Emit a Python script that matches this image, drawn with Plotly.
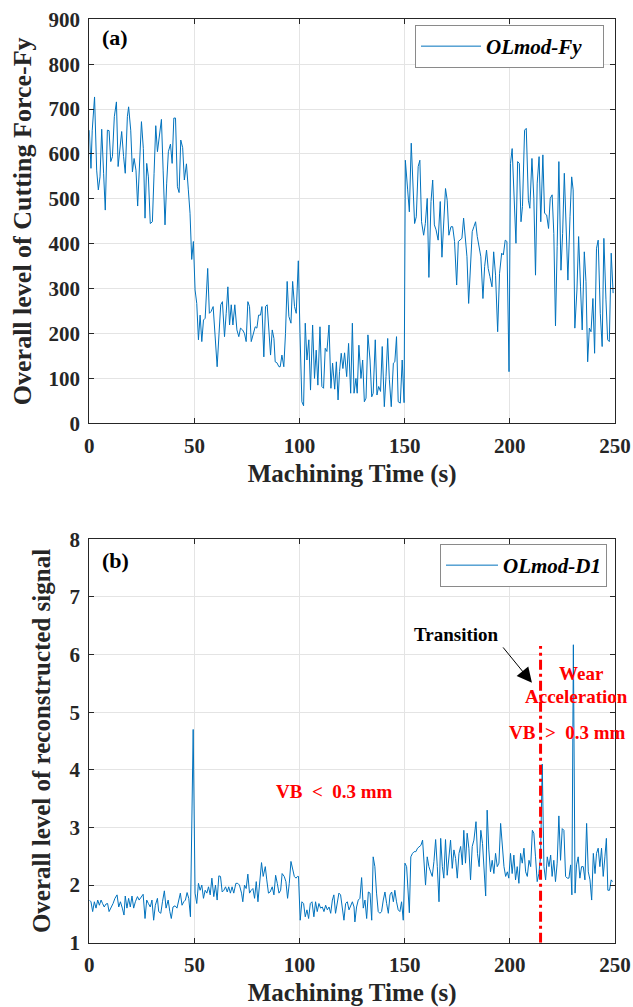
import plotly.graph_objects as go

# ---------------- data ----------------
fy_time = [
    0, 0.8, 1.4, 2.5, 3.5, 4.3, 5.1, 5.9, 6.8, 7.6,
    8.6, 9.4, 10.2, 11.0, 11.9, 12.9, 13.7, 14.4, 15.4, 16.3,
    17.1, 18.1, 18.7, 19.7, 20.5, 21.3, 22.2, 23.0, 23.8, 24.8,
    25.7, 26.5, 27.3, 28.1, 29.0, 30.0, 30.8, 31.6, 32.4, 33.2,
    34.3, 35.1, 36.0, 36.8, 37.6, 38.6, 39.4, 40.2, 41.0, 41.9,
    42.7, 43.5, 44.4, 45.2, 46.2, 47.1, 47.9, 48.7, 49.5, 50.3,
    51.1, 51.9, 52.7, 53.5, 54.3, 55.1, 56.3, 57.1, 57.9, 58.9,
    59.8, 60.8, 61.7, 62.5, 63.3, 64.3, 65.1, 65.9, 66.7, 67.5,
    68.3, 69.2, 70.2, 71.1, 71.9, 72.9, 73.8, 74.6, 75.4, 76.2,
    77.0, 77.9, 78.9, 79.7, 80.5, 81.4, 82.1, 83.0, 83.8, 84.6,
    85.4, 86.2, 87.0, 87.8, 88.4, 89.2, 90.2, 90.8, 91.6, 92.5,
    93.3, 94.1, 94.9, 95.9, 96.7, 97.6, 98.4, 99.4, 100.2, 101.1,
    101.9, 102.7, 103.5, 104.4, 105.2, 106.2, 107.1, 107.9, 108.7, 109.7,
    110.6, 111.4, 112.2, 113.0, 114.0, 114.9, 115.7, 116.7, 117.5, 118.3,
    119.0, 119.8, 120.6, 121.4, 122.4, 123.3, 124.3, 125.1, 125.9,
    126.8, 127.4, 128.2, 129.2, 130.0, 130.8, 131.6, 132.5, 133.5, 134.3,
    135.0, 136.0, 136.8, 137.6, 138.5, 139.3, 140.3, 141.1, 141.9, 142.7,
    143.6, 144.6, 145.3, 146.1, 146.9, 147.9, 148.8, 149.7, 150.3, 151.4,
    152.2, 153.1, 153.9, 154.7, 155.5, 156.4, 157.2, 158.0, 159.0, 159.8,
    160.7, 161.5, 162.5, 163.3, 164.1, 164.9, 165.9, 166.9, 167.7, 168.5,
    169.4, 170.2, 171.0, 172.0, 172.8, 173.7, 174.7, 175.5, 176.4, 177.2,
    178.0, 178.8, 179.6, 180.4, 181.3, 182.1, 182.9, 183.7, 184.5, 185.4,
    186.2, 187.2, 188.0, 188.9, 189.7, 190.5, 191.5, 192.3, 193.2, 194.2,
    195.1, 196.1, 196.9, 197.8, 198.6, 199.6, 200.3, 201.1, 201.9, 202.9,
    203.7, 204.5, 205.3, 206.0, 207.0, 207.8, 208.8, 209.5, 210.5, 211.4,
    212.2, 213.0, 213.9, 214.7, 215.7, 216.5, 217.5, 218.4, 219.2, 220.1,
    220.9, 221.7, 222.5, 223.3, 224.3, 225.1, 225.9, 226.7, 227.6, 228.6,
    229.4, 230.1, 230.9, 231.9, 232.7, 233.6, 234.4, 235.4, 236.2, 237.0,
    237.8, 238.6, 239.5, 240.3, 241.2, 242.0, 243.0, 243.9, 244.7, 245.7,
    246.5, 247.3, 248.2, 249.1,
]
fy_level = [
    653, 568, 653, 727, 564, 520, 549, 655, 557, 475,
    653, 652, 583, 594, 683, 716, 572, 601, 650, 594,
    557, 683, 705, 653, 560, 590, 564, 484, 557, 672,
    612, 457, 579, 549, 445, 449, 557, 663, 605, 631,
    677, 564, 442, 535, 605, 622, 579, 680, 680, 527,
    514, 631, 614, 542, 578, 520, 468, 365, 405, 297,
    267, 186, 241, 182, 230, 234, 345, 245, 249, 260,
    186, 126, 200, 264, 271, 193, 245, 304, 219, 264,
    219, 264, 208, 193, 212, 208, 200, 182, 271, 260,
    182, 200, 215, 212, 241, 241, 260, 148, 260, 264,
    208, 152, 208, 189, 137, 135, 126, 126, 152, 126,
    200, 316, 238, 223, 316, 260, 245, 362, 200, 48,
    39, 223, 141, 186, 74, 219, 100, 163, 85, 215,
    82, 78, 167, 160, 219, 78, 134, 76, 137, 52,
    115, 156, 122, 157, 104, 178, 67, 223, 67,
    100, 67, 174, 100, 141, 48, 56, 197, 141, 59,
    67, 186, 63, 82, 71, 171, 37, 104, 189, 97,
    37, 134, 137, 193, 48, 45, 141, 46, 586, 520,
    471, 624, 535, 445, 460, 572, 586, 449, 419, 445,
    501, 325, 494, 542, 442, 431, 408, 494, 370, 453,
    523, 497, 419, 438, 438, 405, 308, 405, 408, 412,
    457, 419, 371, 267, 356, 427, 438, 449, 416, 390,
    371, 278, 349, 386, 345, 327, 304, 382, 330, 204,
    334, 379, 375, 408, 405, 115, 579, 612, 512, 401,
    583, 579, 449, 483, 653, 657, 497, 479, 590, 501,
    330, 535, 594, 449, 598, 468, 464, 434, 501, 509,
    423, 217, 394, 583, 341, 423, 557, 442, 319, 460,
    549, 520, 212, 297, 416, 304, 208, 382, 316, 137,
    212, 204, 278, 156, 390, 408, 245, 171, 412, 275,
    186, 182, 379, 290,
]

d1_time = [
    0, 0.8, 1.6, 2.4, 3.2, 4.0, 4.8, 5.6, 6.3, 7.1,
    7.9, 8.7, 9.4, 10.3, 11.3, 12.2, 13.2, 14.0, 14.8, 15.7,
    16.5, 17.1, 17.9, 18.7, 19.5, 20.3, 21.1, 21.9, 22.9, 23.7,
    24.6, 25.6, 26.5, 27.3, 28.1, 29.0, 29.8, 30.6, 31.4, 32.4,
    33.0, 34.0, 34.8, 35.7, 36.5, 37.5, 38.3, 39.0, 39.8, 40.8,
    41.7, 42.5, 43.3, 44.1, 44.9, 45.7, 46.5, 47.3, 48.1, 49.4,
    50.3, 51.1, 51.9, 52.7, 53.5, 54.3, 55.1, 55.9, 56.7, 57.5,
    58.3, 59.2, 60.0, 60.8, 61.6, 62.4, 63.2, 64.0, 64.8, 65.6,
    66.3, 67.1, 67.9, 68.7, 69.7, 70.6, 71.4, 72.4, 73.0, 73.8,
    74.6, 75.4, 76.2, 77.0, 77.8, 78.6, 79.4, 80.2, 81.1, 81.9,
    82.7, 83.7, 84.4, 85.2, 86.0, 87.0, 87.8, 88.6, 89.4, 90.2,
    91.0, 91.7, 92.7, 93.5, 94.3, 95.1, 95.9, 96.7, 97.5, 98.3,
    99.0, 99.5, 100.3, 101.1, 101.9, 102.7, 103.5, 104.3, 105.1, 105.9,
    106.8, 107.6, 108.4, 109.2, 110.0, 110.8, 111.6, 112.4, 113.2, 114.0,
    114.8, 115.6, 116.3, 117.1, 117.9, 118.7, 119.5, 120.3, 121.1, 121.9,
    122.7, 123.5, 124.3, 125.1, 125.9,
    126.3, 127.1, 127.9, 128.7, 129.5, 130.3, 131.1, 131.9, 132.7, 133.5,
    134.3, 135.0, 135.8, 136.6, 137.4, 138.2, 139.0, 139.8, 140.6, 141.4,
    142.2, 143.0, 143.8, 144.6, 145.3, 146.1, 146.9, 147.7, 148.5, 149.3,
    150.1, 150.9, 152.2, 152.9, 153.7, 154.5, 155.3, 156.1, 156.9, 157.7,
    158.5, 159.1, 159.9, 160.7, 161.5, 162.3, 163.1, 163.9, 164.7, 165.5,
    166.3, 167.1, 167.9, 168.6, 169.4, 170.2, 171.0, 171.8, 172.6, 173.4,
    174.2, 175.0, 175.8, 176.6, 177.4, 178.1, 178.9, 179.7, 180.5, 181.3,
    182.1, 182.9, 183.9, 184.6, 185.4, 186.2, 187.0, 187.8, 188.5, 189.2,
    190.0, 190.8, 191.6, 192.4, 193.2, 194.0, 194.8, 195.6, 196.4, 197.2,
    198.0, 198.8, 199.5, 200.3, 201.1, 201.9, 202.7, 203.5, 204.3, 205.1,
    205.9, 206.7, 207.5, 208.3, 209.1, 209.9, 210.7, 211.4, 212.2, 213.0,
    213.8, 214.6, 215.4, 216.2, 217.0, 217.8, 218.6, 219.4, 220.1, 220.9,
    221.7, 222.5, 223.3, 224.1, 224.9, 225.7, 226.5, 227.3, 228.1, 228.9,
    229.5, 230.2, 231.0, 231.7, 232.5, 233.3, 234.1, 234.9, 235.7, 236.5,
    237.3, 238.1, 238.9, 239.7, 240.5, 241.2, 242.0, 242.8, 243.6, 244.4,
    245.2, 245.9, 246.6, 247.4, 248.2, 248.8,
]
d1_level = [
    1.74, 1.71, 1.54, 1.71, 1.60, 1.74, 1.65, 1.74, 1.68, 1.62,
    1.67, 1.68, 1.54, 1.60, 1.68, 1.77, 1.83, 1.62, 1.71, 1.60,
    1.48, 1.81, 1.60, 1.77, 1.62, 1.81, 1.60, 1.71, 1.80, 1.74,
    1.79, 1.84, 1.42, 1.74, 1.68, 1.62, 1.74, 1.39, 1.65, 1.77,
    1.54, 1.51, 1.71, 1.90, 1.60, 1.74, 1.54, 1.42, 1.62, 1.64,
    1.60, 1.71, 1.86, 1.65, 1.71, 1.74, 1.87, 1.77, 1.45, 4.70,
    1.86, 1.68, 2.03, 1.91, 2.00, 1.77, 1.91, 1.86, 1.97, 1.83,
    2.12, 1.80, 2.00, 1.74, 2.16, 2.15, 1.88, 1.91, 1.97, 1.88,
    1.97, 1.86, 1.97, 1.86, 2.03, 2.03, 2.00, 1.86, 1.71, 2.00,
    1.94, 2.19, 1.86, 1.91, 1.94, 1.77, 2.06, 1.71, 2.06, 2.39,
    2.15, 2.32, 2.09, 1.86, 1.88, 1.97, 1.83, 2.17, 2.03, 1.86,
    1.91, 2.20, 2.15, 2.06, 1.77, 2.03, 2.41, 2.26, 2.15, 2.12,
    2.15, 2.15, 1.39, 1.71, 1.68, 1.45, 1.57, 1.42, 1.68, 1.71,
    1.45, 1.71, 1.54, 1.68, 1.60, 1.62, 1.54, 1.65, 1.57, 1.62,
    1.51, 1.74, 1.83, 1.51, 1.71, 1.86, 1.83, 1.57, 1.39, 1.68,
    1.71, 1.57, 1.65, 1.71, 1.62,
    1.36, 1.62, 1.74, 1.77, 2.13, 1.60, 1.74, 1.42, 1.88, 1.86,
    1.39, 2.49, 2.32, 1.86, 1.54, 1.51, 1.54, 1.74, 1.88, 1.68,
    1.51, 1.83, 1.88, 1.71, 1.91, 1.71, 1.57, 1.54, 1.71, 1.39,
    2.38, 2.32, 1.52, 2.49, 2.55, 2.58, 2.58, 2.64, 2.67, 2.69,
    2.78, 2.38, 2.00, 2.49, 2.32, 2.23, 2.15, 2.41, 2.79, 2.32,
    1.71, 2.81, 2.32, 2.12, 2.79, 2.17, 2.52, 2.78, 2.29, 2.61,
    2.46, 2.12, 2.55, 2.67, 2.35, 2.95, 2.38, 2.90, 2.64, 2.09,
    2.67, 2.78, 3.10, 2.55, 2.32, 2.95, 2.72, 2.26, 1.81, 3.30,
    2.61, 2.23, 2.43, 2.20, 2.55, 2.32, 2.38, 3.07, 2.67, 2.32,
    2.15, 2.23, 2.12, 2.55, 2.20, 2.52, 2.09, 2.32, 2.03, 2.55,
    2.38, 2.64, 2.23, 2.15, 2.43, 2.32, 2.95, 2.90, 2.49, 2.06,
    2.20, 2.49, 4.10, 2.32, 2.09, 2.49, 2.32, 2.52, 2.15, 2.43,
    2.06, 2.38, 3.20, 2.43, 2.98, 2.95, 2.15, 2.12, 2.12, 2.35,
    1.83, 6.17, 1.86, 2.35, 2.49, 2.12, 2.32, 2.32, 2.09, 3.07,
    2.23, 2.09, 1.74, 2.55, 2.20, 2.55, 2.64, 2.32, 2.64, 2.15,
    2.49, 2.81, 1.91, 1.91, 2.09, 2.06,
]

assert len(fy_time) == len(fy_level), (len(fy_time), len(fy_level))
assert len(d1_time) == len(d1_level), (len(d1_time), len(d1_level))

x_ticks = [0, 50, 100, 150, 200, 250]
fy_ticks = [0, 100, 200, 300, 400, 500, 600, 700, 800, 900]
d1_ticks = [1, 2, 3, 4, 5, 6, 7, 8]

transition_time = 214.6
transition_top = 6.15

# ---------------- style ----------------
SERIF = "Liberation Serif, Times New Roman, serif"
AX_COLOR = "#262626"
LINE_BLUE = "#0072BD"
W, H = 633, 1007
NB = "\u00a0"

fig = go.Figure()
fig.add_trace(go.Scatter(x=fy_time, y=fy_level, mode="lines", name="OLmod-Fy" + NB * 3,
                         line=dict(color=LINE_BLUE, width=1),
                         xaxis="x", yaxis="y", legend="legend"))
fig.add_trace(go.Scatter(x=d1_time, y=d1_level, mode="lines", name="OLmod-D1",
                         line=dict(color=LINE_BLUE, width=1),
                         xaxis="x2", yaxis="y2", legend="legend2"))

x_dom = [89.3 / W, 615 / W]
top_dom = [1 - 423.3 / H, 1 - 19.3 / H]
bot_dom = [1 - 942.7 / H, 1 - 539.3 / H]

tickfont = dict(family=SERIF, size=21, color=AX_COLOR, weight="bold")
common = dict(showline=True, mirror="ticks", linecolor=AX_COLOR, linewidth=1.3,
              ticks="inside", ticklen=5, tickcolor=AX_COLOR, tickwidth=1,
              showgrid=True, gridcolor="#e4e4e4", gridwidth=1, zeroline=False,
              tickfont=tickfont, automargin=False)

xtitle = dict(text="Machining Time (s)", font=dict(family=SERIF, size=25, color=AX_COLOR, weight="bold"), standoff=7)

fig.update_layout(
    width=W, height=H,
    margin=dict(l=0, r=0, t=0, b=0),
    paper_bgcolor="white", plot_bgcolor="white",
    xaxis=dict(domain=x_dom, range=[0, 250], tickvals=x_ticks, anchor="y",
               ticklabelstandoff=3, title=xtitle, **common),
    yaxis=dict(domain=top_dom, range=[0, 900], tickvals=fy_ticks, anchor="x",
               ticklabelstandoff=4,
               title=dict(text="Overall level of Cutting Force-Fy",
                          font=dict(family=SERIF, size=26, color=AX_COLOR, weight="bold"),
                          standoff=9), **common),
    xaxis2=dict(domain=x_dom, range=[0, 250], tickvals=x_ticks, anchor="y2",
                ticklabelstandoff=3, title=xtitle, **common),
    yaxis2=dict(domain=bot_dom, range=[1, 8], tickvals=d1_ticks, anchor="x2",
                ticklabelstandoff=4,
                title=dict(text="Overall level of reconstructed signal",
                           font=dict(family=SERIF, size=25, color=AX_COLOR, weight="bold"),
                           standoff=11), **common),
    legend=dict(x=604 / W, y=1 - 25 / H, xanchor="right", yanchor="top",
                bgcolor="white", bordercolor="#8a8a8a", borderwidth=1,
                font=dict(family=SERIF, size=21, color="black", weight="bold", style="italic"),
                itemwidth=60, tracegroupgap=0),
    legend2=dict(x=607 / W, y=1 - 544 / H, xanchor="right", yanchor="top",
                 bgcolor="white", bordercolor="#8a8a8a", borderwidth=1,
                 font=dict(family=SERIF, size=21, color="black", weight="bold", style="italic"),
                 itemwidth=52),
    showlegend=True,
)

# panel labels
fig.add_annotation(xref="paper", yref="paper", x=100 / W, y=1 - 38 / H, xanchor="left", yanchor="middle",
                   text="(a)", showarrow=False, font=dict(family=SERIF, size=22, color="black", weight="bold"))
fig.add_annotation(xref="paper", yref="paper", x=100 / W, y=1 - 560 / H, xanchor="left", yanchor="middle",
                   text="(b)", showarrow=False, font=dict(family=SERIF, size=22, color="black", weight="bold"))

# transition line
fig.add_shape(type="line", xref="x2", yref="y2", x0=transition_time, x1=transition_time,
              y0=1, y1=transition_top, line=dict(color="red", width=3, dash="10px,4px,3px,4px"))

# annotations in bottom plot
red_font = dict(family=SERIF, size=19, color="red", weight="bold")
fig.add_annotation(xref="x2", yref="y2", x=174.8, y=6.34, text="Transition", showarrow=False,
                   font=dict(family=SERIF, size=19, color="black", weight="bold"))
fig.add_annotation(xref="x2", yref="y2", x=210.5, y=5.51, ax=196.2, ay=6.15, axref="x2", ayref="y2",
                   text="", showarrow=True, arrowhead=2, arrowsize=3, arrowwidth=1, arrowcolor="black")
fig.add_annotation(xref="x2", yref="y2", x=234.3, y=5.68, text="Wear", showarrow=False, font=red_font)
fig.add_annotation(xref="x2", yref="y2", x=231.9, y=5.28, text="Acceleration", showarrow=False, font=red_font)
fig.add_annotation(xref="x2", yref="y2", x=227.6, y=4.64, text=f"VB{NB}{NB}>{NB}{NB}0.3 mm", showarrow=False, font=red_font)
fig.add_annotation(xref="x2", yref="y2", x=116.4, y=3.62, text=f"VB{NB}{NB}<{NB}{NB}0.3 mm", showarrow=False,
                   font=dict(family=SERIF, size=19, color="red", weight="bold"))

fig.write_html("out.html", config={"displayModeBar": False},
               post_script="document.body.style.margin='0px';document.body.style.overflow='hidden';")
